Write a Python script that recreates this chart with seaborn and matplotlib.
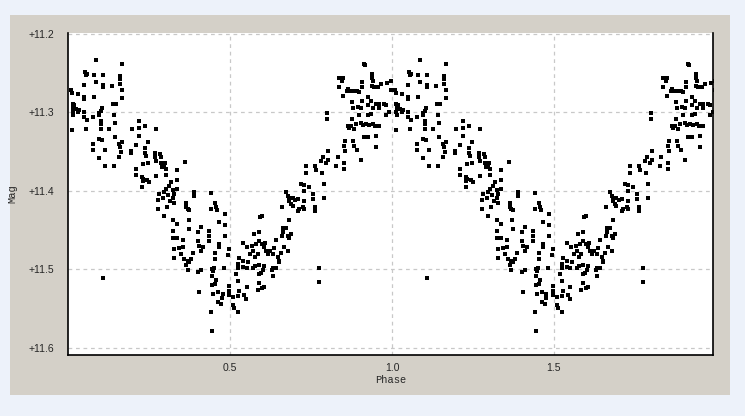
import matplotlib
matplotlib.use("Agg")
import matplotlib.pyplot as plt
from matplotlib.patches import Rectangle
import seaborn as sns
import pandas as pd
import numpy as np

# Phase-folded light curve, read from the first cycle (phase 0-1)
phase = [
 .086,.167,.053,.058,.056,.081,.107,.160,.160,.050,.086,.107,.107,.136,.160,.167,
 .009,.012,.030,.050,.050,.081,.167,.148,.138,.014,.020,.016,.025,.030,.014,.016,
 .035,.050,.050,.058,.078,.097,.102,.105,.097,.143,.146,.102,.102,.012,.056,.102,
 .128,.198,.218,.239,.272,.220,.076,.076,.095,.105,.115,.097,.146,.158,.160,.167,
 .164,.158,.194,.194,.210,.218,.239,.246,.239,.241,.246,.232,.270,.270,.284,.287,
 .272,.287,.290,.297,.302,.300,.115,.143,.210,.210,.228,.232,.243,.230,.249,.228,
 .272,.302,.311,.318,.302,.323,.328,.325,.315,.308,.297,.282,.277,.292,.277,.306,
 .297,.328,.323,.325,.323,.328,.328,.107,
 .362,.338,.338,.338,.390,.390,.364,.364,.369,.374,.441,.441,.455,.457,.459,.372,
 .338,.338,.356,.374,.410,.400,.436,.436,.434,.467,.486,.486,.486,.344,.356,.349,
 .359,.369,.374,.364,.385,.380,.405,.416,.410,.400,.467,.465,.455,.455,.496,.493,
 .369,.400,.410,.444,.452,.449,.483,.444,.457,.455,.444,.405,.447,.462,.477,.475,
 .462,.472,.498,.498,.498,.510,.508,.513,.524,.441,.524,.524,.529,.539,.555,.551,
 .539,.519,.524,.527,.524,.544,.551,.549,.541,.552,.562,.570,.568,.580,.591,.589,
 .575,.593,.599,.585,.578,.570,.578,.591,.589,.596,.606,.603,.589,.585,.599,.604,
 .599,.606,.609,.611,.616,.623,.632,.637,.642,.647,.650,.642,.632,.634,.630,.652,
 .661,.663,.665,.661,.668,.657,.444,
 .673,.678,.683,.688,.693,.683,.693,.702,.709,.714,.724,.729,.729,.709,.719,.729,
 .729,.745,.755,.755,.763,.763,.791,.791,.683,.688,.683,.678,.673,.678,.735,.735,
 .763,.765,.784,.781,.786,.796,.804,.804,.827,.832,.853,.853,.801,.801,.856,.853,
 .856,.879,.884,.891,.904,.951,.837,.846,.848,.837,.850,.863,.860,.873,.884,.891,
 .899,.907,.907,.915,.918,.938,.938,.942,.938,.945,.956,.966,.984,.997,.876,.879,
 .894,.904,.909,.925,.925,.935,.942,.951,.959,.961,.976,.981,.981,.992,.863,.868,
 .873,.876,.884,.889,.897,.904,.911,.920,.930,.942,.948,.959,.925,.935,.915,.925,
 .951,.998,.775,.775,
]
mag = [
 11.234,11.238,11.249,11.251,11.253,11.253,11.252,11.254,11.257,11.265,11.262,11.265,11.268,11.266,11.264,11.272,
 11.272,11.276,11.277,11.280,11.283,11.280,11.282,11.289,11.290,11.289,11.291,11.294,11.296,11.299,11.300,11.304,
 11.297,11.300,11.306,11.310,11.306,11.301,11.298,11.294,11.304,11.304,11.313,11.311,11.315,11.323,11.321,11.321,
 11.321,11.321,11.320,11.318,11.321,11.311,11.340,11.348,11.334,11.335,11.348,11.358,11.331,11.340,11.344,11.338,
 11.351,11.357,11.349,11.352,11.341,11.330,11.345,11.338,11.352,11.355,11.364,11.366,11.352,11.357,11.353,11.357,
 11.362,11.364,11.370,11.367,11.372,11.365,11.368,11.368,11.372,11.380,11.382,11.385,11.386,11.388,11.389,11.395,
 11.381,11.380,11.394,11.389,11.398,11.399,11.404,11.409,11.413,11.405,11.402,11.404,11.412,11.409,11.423,11.421,
 11.432,11.416,11.437,11.451,11.460,11.474,11.486,11.511,
 11.363,11.374,11.386,11.398,11.402,11.406,11.415,11.420,11.423,11.425,11.403,11.423,11.415,11.420,11.425,11.437,
 11.442,11.460,11.462,11.449,11.446,11.452,11.451,11.457,11.464,11.440,11.443,11.430,11.457,11.473,11.472,11.481,
 11.487,11.489,11.491,11.494,11.479,11.487,11.470,11.471,11.477,11.464,11.468,11.471,11.479,11.487,11.474,11.482,
 11.501,11.503,11.501,11.499,11.498,11.502,11.498,11.509,11.513,11.519,11.520,11.529,11.531,11.529,11.531,11.536,
 11.541,11.544,11.521,11.528,11.532,11.535,11.545,11.549,11.554,11.554,11.498,11.493,11.486,11.489,11.491,11.498,
 11.497,11.506,11.515,11.527,11.534,11.532,11.523,11.538,11.466,11.471,11.480,11.477,11.470,11.468,11.464,11.453,
 11.455,11.433,11.432,11.481,11.484,11.498,11.496,11.494,11.506,11.504,11.496,11.501,11.517,11.526,11.524,11.523,
 11.468,11.472,11.466,11.477,11.481,11.477,11.481,11.473,11.463,11.484,11.491,11.498,11.498,11.509,11.501,11.489,
 11.457,11.453,11.447,11.421,11.471,11.479,11.578,
 11.402,11.406,11.413,11.417,11.419,11.409,11.409,11.412,11.411,11.423,11.421,11.413,11.423,11.426,11.391,11.392,
 11.400,11.395,11.404,11.411,11.421,11.426,11.391,11.409,11.437,11.455,11.460,11.457,11.447,11.477,11.368,11.377,
 11.368,11.374,11.377,11.362,11.357,11.364,11.361,11.349,11.368,11.357,11.364,11.372,11.301,11.309,11.336,11.343,
 11.349,11.337,11.343,11.348,11.361,11.344,11.256,11.260,11.256,11.268,11.279,11.270,11.273,11.273,11.273,11.273,
 11.274,11.268,11.262,11.238,11.240,11.251,11.256,11.260,11.266,11.268,11.268,11.264,11.263,11.260,11.287,11.294,
 11.293,11.294,11.285,11.281,11.291,11.285,11.294,11.289,11.289,11.294,11.289,11.291,11.304,11.299,11.317,11.320,
 11.318,11.309,11.321,11.315,11.304,11.313,11.316,11.315,11.316,11.315,11.317,11.318,11.304,11.302,11.332,11.331,
 11.330,11.271,11.498,11.516,
]

y_ticks = [11.2, 11.3, 11.4, 11.5, 11.6]
y_tick_labels = ["+11.2", "+11.3", "+11.4", "+11.5", "+11.6"]
x_ticks = [0.5, 1.0, 1.5]
x_tick_labels = ["0.5", "1.0", "1.5"]

one = pd.DataFrame({"Phase": phase, "Mag": mag})
two = one.copy()
two["Phase"] = two["Phase"] + 1.0
df = pd.concat([one, two], ignore_index=True)

sns.set_style("white")
W, H = 745, 416
fig = plt.figure(figsize=(W / 100, H / 100), dpi=100)
fig.patch.set_facecolor("#EDF2FA")
panel = Rectangle((10 / W, 1 - 395 / H), 720 / W, 380 / H,
                  transform=fig.transFigure, facecolor="#D4D0C8",
                  edgecolor="none", zorder=-10)
fig.patches.append(panel)

ax = fig.add_axes([68 / W, 1 - 355 / H, 645 / W, 322 / H])
ax.set_zorder(5)
ax.set_facecolor("white")
sns.scatterplot(data=df, x="Phase", y="Mag", ax=ax, color="black",
                marker="s", s=9, linewidth=0, legend=False, zorder=3)

ax.set_xlim(0, 1.991)
ax.set_ylim(11.609, 11.199)
ax.set_xticks(x_ticks)
ax.set_xticklabels(x_tick_labels, fontsize=7.5, family="Liberation Sans")
ax.set_yticks(y_ticks)
ax.set_yticklabels(y_tick_labels, fontsize=7.5, family="Liberation Sans")
ax.tick_params(axis="both", length=0)
ax.tick_params(axis="y", pad=10)
ax.tick_params(axis="x", pad=6)
ax.grid(True, color="#C8C8C8", linestyle=(0, (3, 3)), linewidth=0.9)
ax.set_axisbelow(True)
for side in ["left", "bottom", "right"]:
    ax.spines[side].set_color("black")
    ax.spines[side].set_linewidth(1.2)
ax.spines["top"].set_visible(False)

ax.set_xlabel("Phase", fontsize=7.5, family="Liberation Mono", labelpad=1)
ax.set_ylabel("Mag", fontsize=7.5, family="Liberation Mono", labelpad=8)

fig.savefig("out.png", dpi=100, facecolor=fig.get_facecolor())
